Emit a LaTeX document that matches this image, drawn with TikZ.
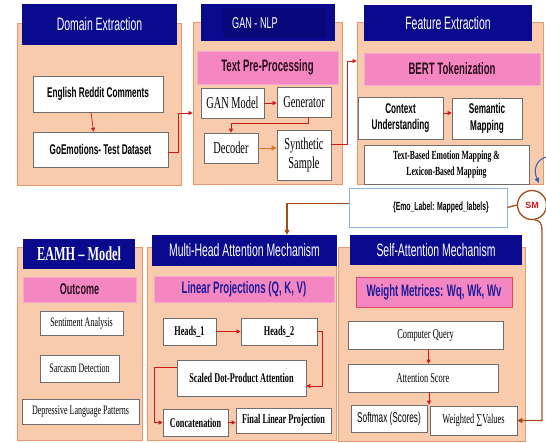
\documentclass[tikz,border=0pt]{standalone}
\usepackage{fontspec}
\setmainfont{Liberation Serif}
\newfontfamily\nsans{Liberation Sans}[FakeStretch=0.58]
\newfontfamily\nserif{Liberation Serif}[FakeStretch=0.62]
\newfontfamily\wsans{Liberation Sans}
\usetikzlibrary{arrows.meta,calc}
\definecolor{peach}{HTML}{F8CBAD}
\definecolor{peachB}{HTML}{E49A6E}
\definecolor{navy}{HTML}{0A0A8F}
\definecolor{navyin}{HTML}{08087A}
\definecolor{pinkc}{HTML}{F486C1}
\definecolor{pinkB}{HTML}{F5A8D2}
\definecolor{redc}{HTML}{D01818}
\definecolor{brownc}{HTML}{A24E1C}
\definecolor{orangec}{HTML}{D8762A}
\definecolor{bluec}{HTML}{2A62C0}
\definecolor{lblue}{HTML}{8DB4E2}
\definecolor{grayb}{HTML}{6E6E6E}
\definecolor{ptext}{HTML}{2A0E1E}
\definecolor{ptblue}{HTML}{1C1C98}
\newcommand\fsz[2]{\fontsize{#1}{#2}\selectfont}
\begin{document}
\begin{tikzpicture}[x=1pt,y=-1pt,
 wh/.style 2 args={minimum width=#1pt,minimum height=#2pt},
 panel/.style={draw=peachB,fill=peach,line width=0.8pt,inner sep=0pt},
 ttl/.style={fill=navy,text=white,inner sep=0pt,font=\nsans\fsz{18}{20}},
 pinkbox/.style={fill=pinkc,draw=pinkB,line width=0.6pt,inner sep=0pt,font=\nsans\bfseries\fsz{16.6}{19},text=ptext},
 wbox/.style={draw=grayb,fill=white,line width=0.6pt,inner sep=1pt,align=center},
 wsb/.style={wbox,font=\nsans\bfseries\fsz{14.1}{16.5}},
 wsr/.style={wbox,font=\nserif\fsz{16.7}{18.5}},
 wsbold/.style={wbox,font=\nserif\bfseries\fsz{13.3}{15}},
 wsreg/.style={wbox,font=\nserif\fsz{13.5}{15}},
 wsout/.style={wbox,font=\nserif\fsz{12.9}{14}},
 rarr/.style={draw=redc,line width=0.7pt,-{Triangle[length=4pt,width=4pt]}},
 oarr/.style={draw=orangec,line width=0.9pt,-{Triangle[length=5pt,width=5pt]}},
 brarr/.style={draw=brownc,line width=1.3pt,-{Triangle[length=5pt,width=5pt]}},
]
\useasboundingbox (0,0) rectangle (546,442);
\fill[white] (0,0) rectangle (546,442);

% Panel 1
\node[panel,wh={164}{162}] (p1) at (99,104) {};
\node[ttl,wh={155}{41}] (t1) at (99.5,24.5) {Domain Extraction};
\node[wsb,wh={130}{36}] (erc) at (98,94) {English Reddit Comments};
\node[wsb,wh={135}{35}] (goe) at (100.5,149.5) {GoEmotions- Test Dataset};

% Panel 2
\node[panel,wh={149}{162}] (p2) at (267.5,103) {};
\node[fill=navy,inner sep=0pt,wh={134}{37}] (t2) at (268,22.5) {};
\node[fill=navyin,inner sep=0pt,wh={103}{30}] (t2in) at (274.5,23) {};
\node[text=white,inner sep=0pt,font=\nsans\fsz{15.7}{17}] (t2t) at (255,23) {GAN - NLP};
\node[pinkbox,wh={141}{33}] (tpp) at (267.5,67.5) {Text Pre-Processing};
\node[wsr,wh={63}{30}] (gan) at (232.5,103) {GAN Model};
\node[wsr,wh={54}{30}] (gen) at (304,102) {Generator};
\node[wsr,wh={54}{30}] (dec) at (231,148) {Decoder};
\node[wsr,wh={54}{50}] (syn) at (304,155) {Synthetic\\Sample};

% Panel 3
\node[panel,wh={186}{162}] (p3) at (450,103) {};
\node[ttl,wh={168}{36}] (t3) at (448,23) {Feature Extraction};
\node[pinkbox,wh={176}{32}] (bert) at (452,69) {BERT Tokenization};
\node[wsb,wh={85}{42}] (ctx) at (400.5,118) {Context\\Understanding};
\node[wsb,wh={70}{41}] (sem) at (487,118.5) {Semantic\\Mapping};
\node[wbox,font=\nserif\bfseries\fsz{12.4}{15.5},wh={165}{39}] (tb) at (446.5,164.5) {Text-Based Emotion Mapping \&\\Lexicon-Based Mapping};

% Label and SM
\node[wbox,draw=lblue,line width=0.9pt,font=\nsans\bfseries\fsz{11.8}{13},wh={158}{39}] (emo) at (428,207.5) {\hspace*{26pt}\{Emo\_Label: Mapped\_labels\}};
\node[circle,draw=brownc,line width=1.3pt,fill=white,minimum size=29pt,inner sep=0pt,font=\wsans\bfseries\fsz{9}{10},text=redc] (sm) at (532,205) {SM};

% Panel 4
\node[panel,wh={125}{193}] (p4) at (79.5,343.5) {};
\node[ttl,font=\nserif\bfseries\fsz{19.8}{22},wh={112}{30}] (t4) at (79,254) {EAMH – Model};
\node[pinkbox,wh={113}{25},font=\nsans\bfseries\fsz{15.6}{17}] (outc) at (79.5,289.5) {Outcome};
\node[wsout,wh={83}{24}] (sa) at (81.5,323) {Sentiment Analysis};
\node[wsout,wh={79}{27}] (sd) at (79.5,368.5) {Sarcasm Detection};
\node[wsout,wh={117}{25}] (dlp) at (80.5,411.5) {Depressive Language Patterns};

% Panel 5
\node[panel,wh={189}{193}] (p5) at (241.5,343.5) {};
\node[ttl,wh={185}{31}] (t5) at (244.5,250.5) {Multi-Head Attention Mechanism};
\node[pinkbox,text=ptblue,wh={180}{26}] (lp) at (244,289) {Linear Projections (Q, K, V)};
\node[wsbold,wh={53}{27}] (h1) at (189.5,331.5) {Heads\_1};
\node[wsbold,wh={76}{27}] (h2) at (279,331.5) {Heads\_2};
\node[wsbold,wh={129}{36}] (sdp) at (241.5,378) {Scaled Dot-Product Attention};
\node[wsbold,wh={65}{27}] (cat) at (195.5,422.5) {Concatenation};
\node[wsbold,wh={95}{25}] (flp) at (283.5,420.5) {Final Linear Projection};

% Panel 6
\node[panel,wh={187}{194}] (p6) at (432,344) {};
\node[ttl,wh={172}{30}] (t6) at (436,250) {Self-Attention Mechanism};
\node[pinkbox,draw=redc!55!pinkc,text=ptblue,wh={156}{30}] (wm) at (434,292) {Weight Metrices: Wq, Wk, Wv};
\node[wsreg,wh={155}{28}] (cq) at (425.5,335) {Computer Query};
\node[wsreg,wh={150}{28}] (as) at (423,378) {Attention Score};
\node[wbox,font=\nsans\fsz{14.2}{16},wh={76}{27}] (sm2) at (389,418.5) {Softmax (Scores)};
\node[wsreg,wh={87}{29}] (wv) at (473.5,420.5) {Weighted ∑Values};

% Connectors
\draw[rarr] ([xshift=-7pt]erc.south) -- ([xshift=-7pt]goe.north);
\draw[rarr] ([yshift=-2.5pt]goe.east) -- ++(10,0) |- ([yshift=-10pt]p2.west);
\draw[rarr] (gan.east) -- (gan.east -| gen.west);
\draw[rarr] ([xshift=4pt]gen.south) -- ++(0,6) -| (dec.north);
\draw[oarr] (dec.east) -- (dec.east -| syn.west);
\draw[rarr] ([yshift=11pt]syn.east) -- ++(16,0) |- ([yshift=42pt]p3.west);
\draw[rarr] ([yshift=5pt]ctx.east) -- ([yshift=5pt]ctx.east -| sem.west);

\coordinate (blS) at (546,157);
\coordinate (blE) at (539,183);
\draw[bluec,line width=1pt,-{Triangle[length=5pt,width=4.5pt]}] (blS) .. controls (536,160) and (533,170) .. (blE);

\draw[brownc,line width=1.3pt] (emo.east) -- (sm.west);
\draw[brarr] ([yshift=4pt]emo.west) -| ([xshift=42.5pt]t5.north);
\coordinate (brV) at (542,230);
\draw[brarr] (sm.-80) .. controls (539,220) and (542,223) .. (brV) |- (wv.east);

\draw[rarr] (h1.east) -- (h2.west);
\draw[rarr] (h2.east) -- ++(5,0) |- ([yshift=-8pt]sdp.east);
\draw[rarr] ([yshift=11pt]sdp.west) -- ++(-22,0) |- (cat.west);
\draw[rarr] (cat.east) -- (cat.east -| flp.west);
\draw[rarr] ([xshift=3pt]cq.south) -- ([xshift=3pt]cq.south |- as.north);
\draw[rarr] ([xshift=6pt]as.south) -- ([xshift=6pt]as.south |- sm2.north);
\end{tikzpicture}
\end{document}
